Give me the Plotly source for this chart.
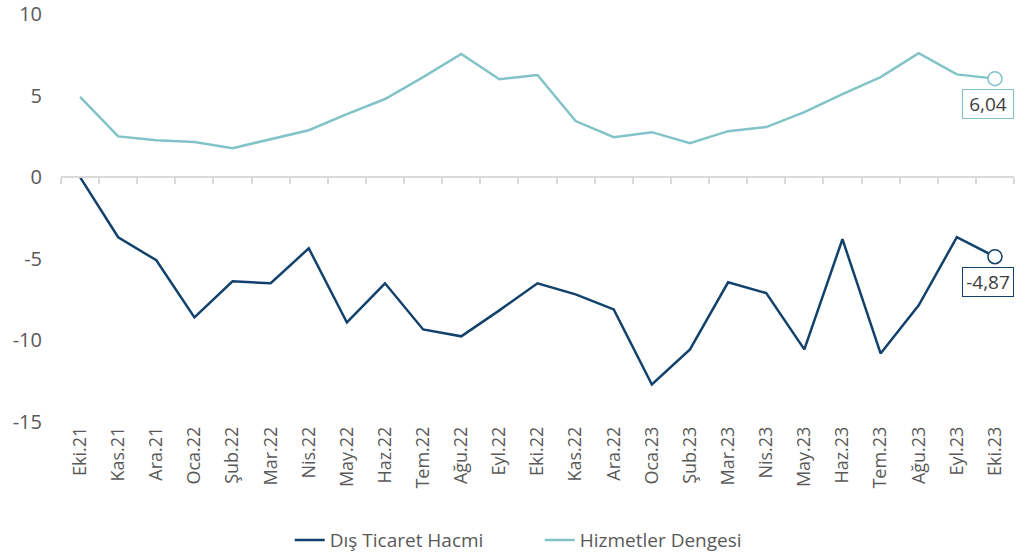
import plotly.graph_objects as go

months = ["Eki.21","Kas.21","Ara.21","Oca.22","Şub.22","Mar.22","Nis.22","May.22","Haz.22",
          "Tem.22","Ağu.22","Eyl.22","Eki.22","Kas.22","Ara.22","Oca.23","Şub.23","Mar.23",
          "Nis.23","May.23","Haz.23","Tem.23","Ağu.23","Eyl.23","Eki.23"]
dis_ticaret = [0.0,-3.68,-5.09,-8.59,-6.38,-6.5,-4.36,-8.9,-6.5,-9.33,-9.75,-8.16,-6.5,-7.18,
               -8.1,-12.7,-10.55,-6.44,-7.1,-10.55,-3.8,-10.8,-7.85,-3.68,-4.87]
hizmetler = [4.92,2.5,2.27,2.15,1.78,2.33,2.88,3.87,4.79,6.13,7.55,6.0,6.26,3.44,2.45,2.76,
             2.09,2.82,3.07,3.99,5.09,6.13,7.6,6.3,6.04]
yticks = [10, 5, 0, -5, -10, -15]
yticklabels = ["10", "5", "0", "-5", "-10", "-15"]

DARK = "#12426C"
LIGHT = "#82C3C8"
TXT = "#595959"
FONT = "Open Sans"

xs = list(range(len(months)))
n = len(months)

fig = go.Figure()
fig.add_trace(go.Scatter(x=xs, y=dis_ticaret, mode="lines", name="Dış Ticaret Hacmi",
                         line=dict(color=DARK, width=2.5)))
fig.add_trace(go.Scatter(x=xs, y=hizmetler, mode="lines", name="Hizmetler Dengesi",
                         line=dict(color=LIGHT, width=2.5)))
# end markers and value labels
for series, col in [(dis_ticaret, DARK), (hizmetler, LIGHT)]:
    fig.add_trace(go.Scatter(x=[xs[-1]], y=[series[-1]], mode="markers", showlegend=False,
                             marker=dict(size=14, color="white", line=dict(color=col, width=1.5)),
                             hoverinfo="skip"))
    fig.add_annotation(x=xs[-1], y=series[-1], text=f"{series[-1]:.2f}".replace(".", ","),
                       showarrow=False, xshift=-7, yshift=-25, width=48,
                       font=dict(family=FONT, size=19, color="#404040"),
                       bordercolor=col, borderwidth=1, borderpad=1, bgcolor="white")

# invisible trace carrying the zero-level axis line
fig.add_trace(go.Scatter(x=xs, y=[0]*n, xaxis="x2", mode="lines", showlegend=False,
                         line=dict(width=0, color="rgba(0,0,0,0)"), hoverinfo="skip"))

rng = [-0.5, n - 0.5]
fig.update_layout(
    width=1024, height=554,
    margin=dict(l=61, r=10, t=14, b=132, autoexpand=False),
    paper_bgcolor="white", plot_bgcolor="white",
    font=dict(family=FONT, color=TXT),
    showlegend=True,
    legend=dict(orientation="h", x=0.24, xanchor="left", yref="container", y=0.025,
                yanchor="middle", entrywidth=205, entrywidthmode="pixels",
                font=dict(family=FONT, size=19, color=TXT)),
    xaxis=dict(range=rng, tickmode="array", tickvals=xs, ticktext=months, tickangle=-90,
               showgrid=False, zeroline=False, showline=False, ticks="", automargin=False,
               tickfont=dict(family=FONT, size=18, color=TXT)),
    xaxis2=dict(range=rng, overlaying="x", anchor="free", position=0.6, side="bottom",
                showgrid=False, zeroline=False, showline=True, linecolor="#D9D9D9", linewidth=1.5,
                ticks="outside", ticklen=6, tickcolor="#D9D9D9", tickwidth=1.5, automargin=False,
                tickmode="array", tickvals=[i - 0.5 for i in range(n + 1)], showticklabels=False),
    yaxis=dict(range=[-15, 10], tickmode="array", tickvals=yticks, ticktext=yticklabels,
               showgrid=False, zeroline=False, showline=False, ticklabelstandoff=18,
               automargin=False, tickfont=dict(family=FONT, size=20, color=TXT)),
)

fig.write_html("out.html", config={"displayModeBar": False},
               post_script="document.body.style.margin='0';")
